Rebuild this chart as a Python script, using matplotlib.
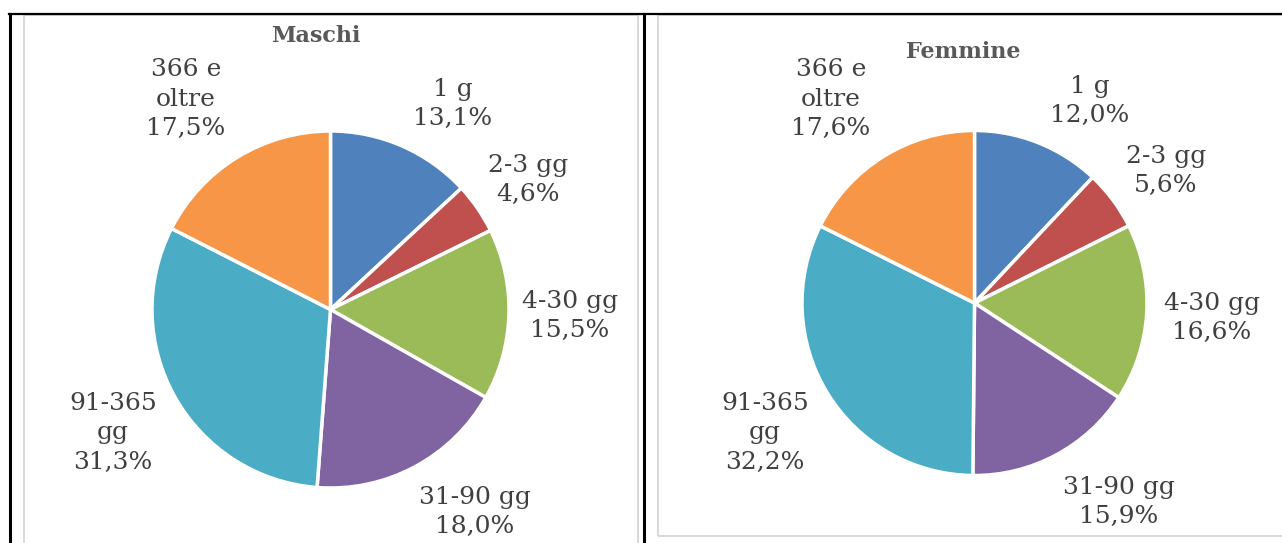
"""Two pie charts: duration classes, males vs females."""

import matplotlib.pyplot as plt
from matplotlib.lines import Line2D
from matplotlib.patches import Rectangle

W, H = 1282, 543

categories = ["1 g", "2-3 gg", "4-30 gg", "31-90 gg", "91-365\ngg", "366 e\noltre"]
maschi = [13.1, 4.6, 15.5, 18.0, 31.3, 17.5]
femmine = [12.0, 5.6, 16.6, 15.9, 32.2, 17.6]
titles = ["Maschi", "Femmine"]

COLORS = ["#4F81BD", "#C0504D", "#9BBB59", "#8064A2", "#4BACC6", "#F79646"]
TEXT = "#404040"

# layout in image pixels (x, y from top)
PIE_BOXES = [(330.5, 309.5, 178.5), (974.5, 303.0, 172.5)]
TITLE_POS = [(316, 36), (963, 52)]
LABEL_POS = [
    [(453, 104), (528, 180), (570, 316), (475, 512), (113, 433), (186, 99)],
    [(1090, 101), (1166, 171), (1212, 318), (1119, 502), (765, 433), (831, 99)],
]


def fx(x):
    return x / W


def fy(y):
    return 1 - y / H


def fmt(v):
    return f"{v:.1f}%".replace(".", ",")


plt.rcParams["font.family"] = ["DejaVu Serif"]
fig = plt.figure(figsize=(W / 100, H / 100), dpi=100)
fig.patch.set_facecolor("white")

# table frame and chart borders
frame = [
    Line2D([fx(9), 1], [fy(13.5), fy(13.5)], color="black", lw=1.6),
    Line2D([fx(10), fx(10)], [fy(13.5), 0], color="black", lw=2.2),
    Line2D([fx(644), fx(644)], [fy(13.5), 0], color="black", lw=2.2),
]
for ln in frame:
    fig.add_artist(ln)
fig.add_artist(Rectangle((fx(23.5), fy(560)), fx(637.5 - 23.5), fy(15) - fy(560),
                         transform=fig.transFigure, fill=False, edgecolor="#D9D9D9", lw=1.5))
fig.add_artist(Rectangle((fx(658), fy(536)), fx(700), fy(15) - fy(536),
                         transform=fig.transFigure, fill=False, edgecolor="#D9D9D9", lw=1.5))

for i, values in enumerate([maschi, femmine]):
    cx, cy, r = PIE_BOXES[i]
    ax = fig.add_axes([fx(cx - r), fy(cy + r), fx(2 * r), fy(cy - r) - fy(cy + r)])
    ax.pie(values, colors=COLORS, startangle=90, counterclock=False,
           wedgeprops={"edgecolor": "white", "linewidth": 2.5})
    ax.set_xlim(-1, 1)
    ax.set_ylim(-1, 1)
    ax.set_aspect("auto")
    ax.axis("off")

    tx, ty = TITLE_POS[i]
    fig.text(fx(tx), fy(ty), titles[i], ha="center", va="center",
             fontsize=16, fontweight="bold", color="#595959")
    for cat, v, (lx, ly) in zip(categories, values, LABEL_POS[i]):
        fig.text(fx(lx), fy(ly), f"{cat}\n{fmt(v)}", ha="center", va="center",
                 fontsize=18, color=TEXT, linespacing=1.38)

fig.savefig("out.png", dpi=100, facecolor="white")
